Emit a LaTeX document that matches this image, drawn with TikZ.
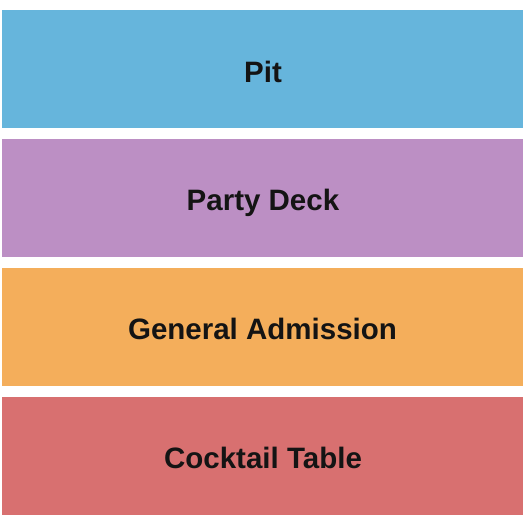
\documentclass[tikz,border=0pt]{standalone}
\usepackage{fontspec}
\setmainfont{Liberation Sans}
\definecolor{pitc}{RGB}{102,181,220}
\definecolor{deckc}{RGB}{188,143,196}
\definecolor{gac}{RGB}{244,174,91}
\definecolor{ctc}{RGB}{216,112,112}
\definecolor{txtc}{RGB}{20,20,20}
\begin{document}
\begin{tikzpicture}[x=1pt,y=-1pt,
  block/.style={draw=none,inner sep=0pt,outer sep=0pt,minimum width=521pt,minimum height=118pt,anchor=north west},
  lbl/.style={anchor=base,inner sep=0pt,text=txtc,font=\fontsize{29.5}{32}\selectfont\bfseries}]
\useasboundingbox[fill=white] (0,0) rectangle (525,525);
\node[block,fill=pitc] (pit) at (2,10) {};
\node[block,fill=deckc] (deck) at (2,139) {};
\node[block,fill=gac] (ga) at (2,268) {};
\node[block,fill=ctc] (ct) at (2,397) {};
\node[lbl] (pitl) at (263,82.3) {Pit};
\node[lbl] (deckl) at (263,210.7) {Party Deck};
\node[lbl] (gal) at (262.5,339.3) {General Admission};
\node[lbl] (ctl) at (263,468) {Cocktail Table};
\end{tikzpicture}
\end{document}
